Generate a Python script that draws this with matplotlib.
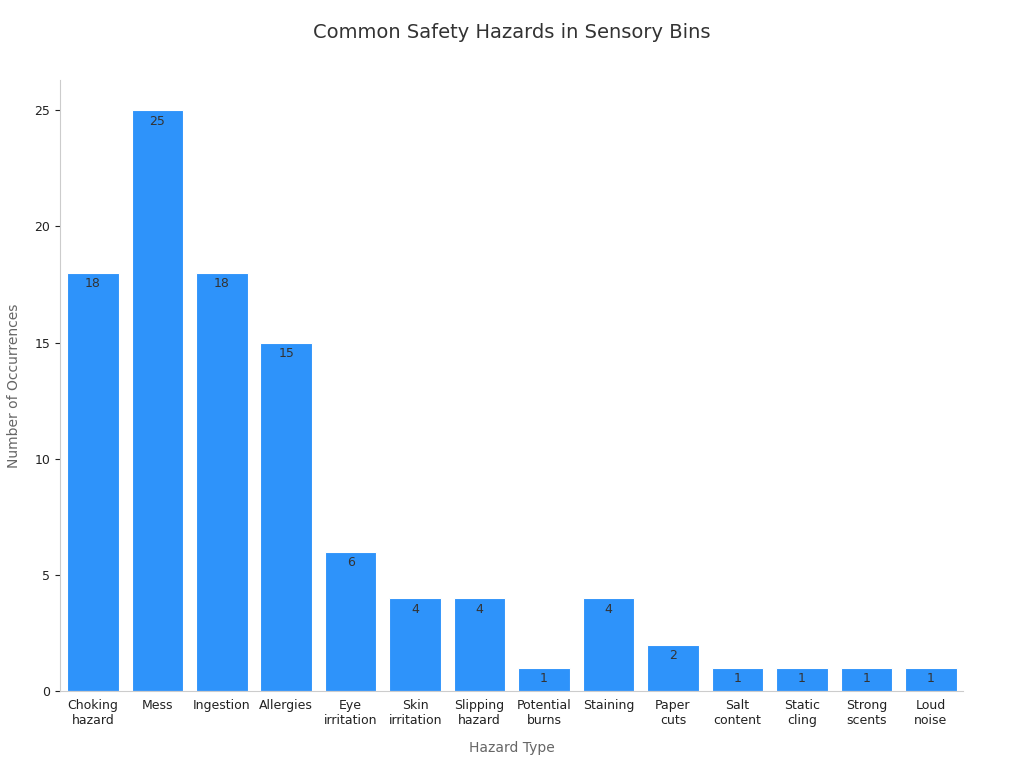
import matplotlib
matplotlib.use("Agg")
import matplotlib.pyplot as plt

categories = ["Choking\nhazard", "Mess", "Ingestion", "Allergies", "Eye\nirritation", "Skin\nirritation",
              "Slipping\nhazard", "Potential\nburns", "Staining", "Paper\ncuts", "Salt\ncontent",
              "Static\ncling", "Strong\nscents", "Loud\nnoise"]
values = [18, 25, 18, 15, 6, 4, 4, 1, 4, 2, 1, 1, 1, 1]
yticks = [0, 5, 10, 15, 20, 25]

fig = plt.figure(figsize=(10.24, 7.68), dpi=100)
ax = fig.add_axes([60/1024, 1-691/768, (963-60)/1024, (691-80)/768])
x = range(len(categories))
bars = ax.bar(x, values, width=0.8, color="#2E93FA", edgecolor="white", linewidth=0.8)
for xi, v in zip(x, values):
    ax.text(xi, v - 0.2, str(v), ha="center", va="top", fontsize=9, color="#333333")
ax.set_xlim(-0.51, 13.5)
ax.set_ylim(0, 26.3)
ax.set_yticks(yticks)
ax.set_xticks(list(x))
ax.set_xticklabels(categories, fontsize=9, color="#222222")
ax.tick_params(axis="y", labelsize=9, colors="#222222")
ax.tick_params(axis="x", length=0, pad=6)
for s in ["top", "right"]:
    ax.spines[s].set_visible(False)
for s in ["left", "bottom"]:
    ax.spines[s].set_color("#cccccc")
ax.set_xlabel("Hazard Type", fontsize=10, color="#666666", labelpad=10)
ax.set_ylabel("Number of Occurrences", fontsize=10, color="#666666", labelpad=10)
fig.text(0.5, 1-33/768, "Common Safety Hazards in Sensory Bins", ha="center", va="center",
         fontsize=14, color="#333333")
fig.savefig("out.png", dpi=100)
